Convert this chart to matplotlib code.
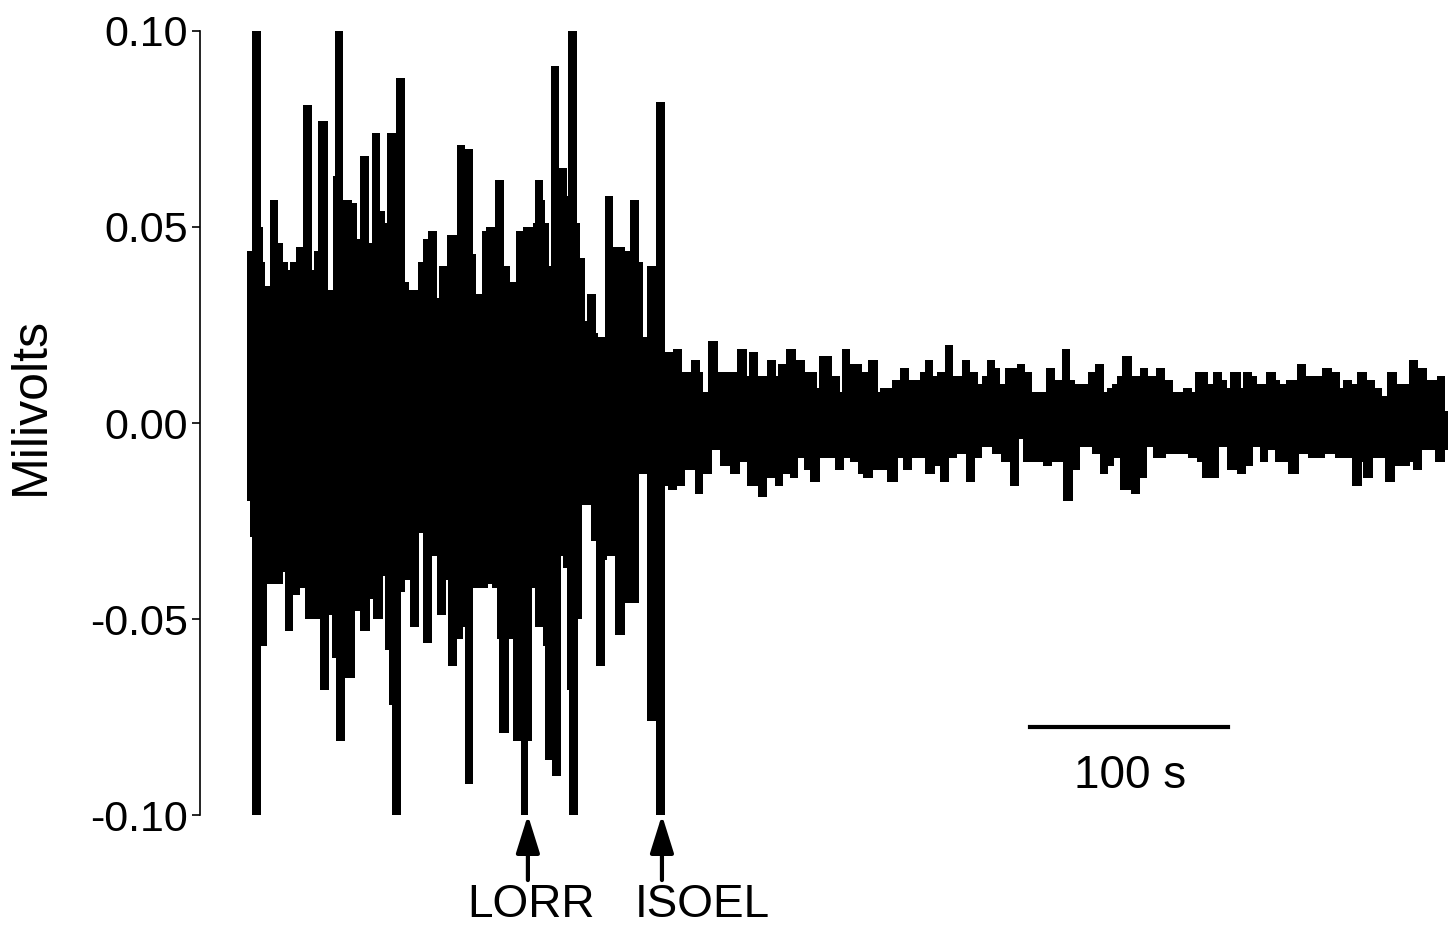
"""
EEG trace around loss of righting reflex (LORR) and isoelectric EEG (ISOEL)
"""

import matplotlib
matplotlib.use("Agg")
import matplotlib.pyplot as plt
import numpy as np

plt.rcParams["font.family"] = ["Liberation Sans", "DejaVu Sans"]

# upper envelope of the trace: step start times (s) and values (microvolts)
upper_t = [0.0, 2.4, 6.9, 8.2, 9.1, 11.6, 15.8, 18.0, 20.9, 21.7, 24.7, 28.4,
           32.7, 33.8, 36.0, 41.1, 43.3, 44.4, 48.6, 52.9, 55.7, 57.1, 61.8,
           63.0, 67.2, 69.7, 70.9, 75.2, 79.8, 82.0, 86.2, 88.7, 91.6, 95.8,
           97.1, 100.8, 105.9, 110.1, 114.0, 115.5, 118.5, 120.7, 125.2, 129.8,
           132.8, 135.8, 139.2, 144.6, 145.4, 149.6, 150.5, 152.7, 153.4, 157.7,
           161.5, 162.3, 166.5, 168.2, 170.7, 171.5, 176.2, 177.4, 180.8, 185.0,
           190.9, 193.4, 198.0, 200.1, 201.8, 206.5, 211.1, 215.0, 219.5, 224.2,
           228.8, 230.4, 233.0, 238.0, 247.3, 252.3, 253.7, 258.2, 262.5, 267.1,
           268.3, 272.5, 277.1, 281.8, 287.7, 288.9, 295.3, 299.5, 300.3, 304.5,
           310.4, 313.8, 318.8, 319.7, 325.6, 329.8, 334.5, 339.9, 342.4, 346.6,
           348.3, 352.5, 356.7, 361.0, 365.2, 369.4, 371.1, 373.6, 377.7, 380.3,
           382.8, 388.7, 392.9, 396.3, 403.8, 408.0, 411.4, 415.6, 418.1, 424.9,
           428.2, 432.8, 434.2, 436.7, 439.2, 442.0, 446.8, 451.0, 455.2, 459.1,
           463.6, 467.8, 472.6, 477.1, 478.7, 485.5, 487.7, 492.2, 494.8, 496.4,
           501.8, 502.8, 507.4, 510.2, 514.9, 519.6, 521.7, 525.0, 530.1, 534.8,
           542.7, 547.8, 552.0, 553.6, 557.9, 560.7, 565.5, 569.6, 573.0, 575.6,
           580.6, 587.0, 591.6, 595.8, 600.9, 605.0]
upper_uv = [44, 100, 50, 41, 35, 57, 46, 41, 39, 41, 45, 81,
            39, 44, 77, 34, 63, 100, 57, 56, 47, 68, 46,
            74, 54, 51, 74, 88, 36, 34, 41, 47, 49, 32,
            40, 48, 71, 70, 43, 33, 49, 50, 62, 40,
            36, 49, 50, 51, 62, 57, 51, 40, 91, 65,
            58, 100, 51, 42, 26, 33, 23, 22, 58, 45,
            44, 57, 41, 22, 40, 82, 18, 19, 13, 16,
            13, 8, 21, 13, 19, 12, 18, 12, 16, 12,
            15, 19, 16, 13, 9, 17, 12, 8, 19, 15,
            13, 16, 8, 9, 11, 14, 11, 13, 16, 12,
            13, 20, 12, 16, 13, 10, 12, 16, 14, 10,
            14, 15, 13, 8, 14, 11, 19, 11, 10, 13,
            15, 8, 9, 10, 12, 17, 12, 14, 12, 14,
            11, 8, 9, 8, 13, 10, 13, 11, 9, 13,
            9, 13, 12, 10, 13, 11, 10, 11, 15, 12,
            14, 13, 9, 11, 10, 13, 11, 9, 7, 13,
            10, 16, 14, 11, 12, 3]

# lower envelope of the trace
lower_t = [0.0, 1.4, 2.4, 6.9, 9.9, 18.0, 19.2, 23.4, 26.8, 29.3, 36.9, 41.6,
           42.8, 45.0, 49.5, 54.5, 57.1, 62.1, 63.8, 68.5, 69.7, 71.9, 73.1,
           77.6, 79.8, 82.3, 87.0, 88.7, 93.6, 96.1, 100.5, 101.4, 105.9, 109.2,
           110.1, 114.3, 121.9, 123.9, 126.4, 127.4, 132.5, 134.5, 138.2, 142.1,
           143.8, 145.4, 149.6, 150.5, 153.9, 158.4, 159.4, 161.5, 162.8, 167.4,
           169.0, 173.7, 176.2, 180.8, 181.6, 185.8, 190.9, 198.0, 201.8, 206.5,
           211.1, 212.8, 217.0, 221.2, 226.2, 230.4, 234.7, 238.9, 243.9, 249.0,
           252.3, 258.2, 262.5, 266.7, 270.9, 274.3, 278.5, 281.1, 284.4, 289.5,
           297.1, 301.3, 304.5, 308.7, 311.3, 316.3, 323.1, 329.0, 331.5, 335.7,
           342.4, 347.5, 350.0, 354.7, 358.5, 363.2, 367.6, 371.1, 376.1, 380.6,
           385.3, 390.0, 392.0, 402.2, 406.4, 412.2, 417.0, 420.7, 426.6, 430.8,
           435.0, 437.8, 440.9, 446.3, 451.0, 454.6, 457.7, 464.1, 468.7, 475.4,
           479.7, 482.2, 491.1, 495.2, 499.9, 504.6, 508.3, 511.4, 515.9, 519.3,
           526.0, 531.1, 536.1, 544.6, 549.6, 557.9, 562.9, 563.8, 568.8, 574.8,
           579.8, 587.3, 588.7, 593.2, 599.9, 605.0]
lower_uv = [-20, -29, -100, -57, -41, -38, -53, -44, -42, -50, -68, -49,
            -60, -81, -65, -48, -53, -45, -50, -39, -58, -72, -100,
            -43, -40, -52, -28, -56, -34, -49, -40, -62, -55, -52,
            -92, -42, -41, -42, -55, -79, -55, -81, -100, -81,
            -42, -52, -57, -86, -90, -34, -37, -68, -100, -50,
            -21, -30, -62, -35, -34, -54, -46, -13, -76, -100,
            -16, -17, -16, -12, -18, -13, -7, -11, -13, -10,
            -16, -19, -14, -16, -13, -14, -9, -12, -15, -9,
            -12, -9, -10, -13, -14, -12, -15, -9, -12, -9,
            -13, -11, -15, -9, -8, -15, -9, -6, -8, -10,
            -16, -4, -10, -11, -10, -20, -12, -6, -8, -13,
            -11, -9, -17, -18, -14, -6, -9, -8, -8, -9,
            -10, -14, -6, -12, -13, -11, -6, -10, -7, -10,
            -13, -8, -9, -8, -9, -16, -10, -14, -9, -15,
            -11, -10, -12, -7, -10, -7]
t_end = 606.7

# event markers below the trace
events = ["LORR", "ISOEL"]
event_t = [141.9, 209.6]
event_label_t = [143.4, 229.8]

yticks = [-0.10, -0.05, 0.00, 0.05, 0.10]
ytick_labels = ["-0.10", "-0.05", "0.00", "0.05", "0.10"]

fig = plt.figure(figsize=(14.54, 9.30), dpi=100)
ax = fig.add_axes([200 / 1454, 1 - 815 / 930, 1252 / 1454, 784 / 930])

xu = np.append(upper_t, t_end)
yu = np.append(upper_uv, upper_uv[-1]) / 1000.0
xl = np.append(lower_t, t_end)
yl = np.append(lower_uv, lower_uv[-1]) / 1000.0
ax.fill_between(xu, 0, yu, step="post", color="black", lw=0, clip_on=False)
ax.fill_between(xl, yl, 0, step="post", color="black", lw=0, clip_on=False)

ax.set_xlim(-23.7, 608.6)
ax.set_ylim(-0.10, 0.10)
ax.set_yticks(yticks)
ax.set_yticklabels(ytick_labels, fontsize=31)
ax.tick_params(axis="y", length=6, width=1.2, pad=3)
ax.set_xticks([])
for side in ["top", "right", "bottom"]:
    ax.spines[side].set_visible(False)
ax.spines["left"].set_linewidth(1.2)

fig.text(31 / 1454, 1 - 406 / 930, "Milivolts", rotation=90, ha="center",
         va="center", fontsize=36,
         family=["Liberation Sans Narrow", "Liberation Sans", "DejaVu Sans"])

for name, t, lt in zip(events, event_t, event_label_t):
    ax.annotate("", xy=(t, -0.10), xytext=(t, -0.1166),
                arrowprops=dict(arrowstyle="-|>,head_length=1.15,head_width=0.36",
                                mutation_scale=20, lw=3, color="black",
                                shrinkA=0, shrinkB=0),
                annotation_clip=False)
    ax.text(lt, -0.1259, name, ha="center", va="baseline", fontsize=33)

# 100 s scale bar
ax.plot([395.5, 495.5], [-0.0776, -0.0776], color="black", lw=3, clip_on=False)
ax.text(446, -0.0931, "100 s", ha="center", va="baseline", fontsize=33)

fig.savefig("out.png", dpi=100)
